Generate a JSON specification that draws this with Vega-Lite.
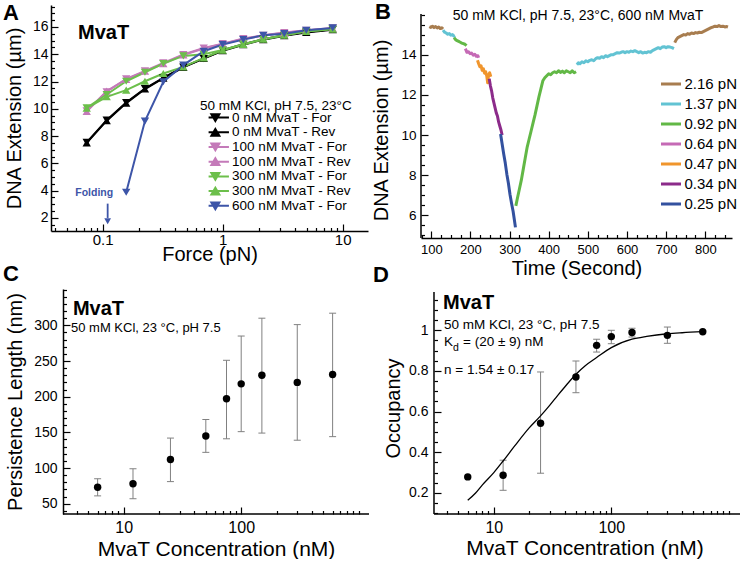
{
"$schema": "https://vega.github.io/schema/vega-lite/v6.json",
"background": "white",
"padding": {"left": 2, "top": 0, "right": 0, "bottom": 0},
"config": {
 "view": {"stroke": null},
 "font": "Liberation Sans",
 "axis": {"domainColor": "#000", "domainWidth": 1.5, "tickColor": "#000", "tickWidth": 1.2, "labelColor": "#000", "titleColor": "#000", "labelFont": "Liberation Sans", "titleFont": "Liberation Sans", "titleFontWeight": "normal", "grid": false, "labelFlush": false, "labelOverlap": false},
 "legend": {"labelFont": "Liberation Sans", "titleFont": "Liberation Sans", "labelColor": "#000", "titleColor": "#000", "padding": 0},
 "title": {"font": "Liberation Sans", "color": "#000"}
},
"datasets": {
 "a": [
  {"f":0.0736,"e":7.54,"s":"0 nM MvaT - For"},{"f":0.108,"e":9.17,"s":"0 nM MvaT - For"},{"f":0.157,"e":10.46,"s":"0 nM MvaT - For"},{"f":0.225,"e":11.49,"s":"0 nM MvaT - For"},{"f":0.32,"e":12.27,"s":"0 nM MvaT - For"},{"f":0.47,"e":13.07,"s":"0 nM MvaT - For"},{"f":0.695,"e":13.68,"s":"0 nM MvaT - For"},{"f":1.0,"e":14.29,"s":"0 nM MvaT - For"},{"f":1.485,"e":14.73,"s":"0 nM MvaT - For"},{"f":2.18,"e":15.1,"s":"0 nM MvaT - For"},{"f":3.26,"e":15.39,"s":"0 nM MvaT - For"},{"f":4.97,"e":15.63,"s":"0 nM MvaT - For"},{"f":8.26,"e":15.83,"s":"0 nM MvaT - For"},
  {"f":0.0736,"e":7.5,"s":"0 nM MvaT - Rev"},{"f":0.108,"e":9.13,"s":"0 nM MvaT - Rev"},{"f":0.157,"e":10.42,"s":"0 nM MvaT - Rev"},{"f":0.225,"e":11.45,"s":"0 nM MvaT - Rev"},{"f":0.32,"e":12.24,"s":"0 nM MvaT - Rev"},{"f":0.47,"e":13.04,"s":"0 nM MvaT - Rev"},{"f":0.695,"e":13.7,"s":"0 nM MvaT - Rev"},{"f":1.0,"e":14.26,"s":"0 nM MvaT - Rev"},{"f":1.485,"e":14.7,"s":"0 nM MvaT - Rev"},{"f":2.18,"e":15.07,"s":"0 nM MvaT - Rev"},{"f":3.26,"e":15.36,"s":"0 nM MvaT - Rev"},{"f":4.97,"e":15.6,"s":"0 nM MvaT - Rev"},{"f":8.26,"e":15.8,"s":"0 nM MvaT - Rev"},
  {"f":0.0736,"e":9.85,"s":"100 nM MvaT - For"},{"f":0.108,"e":11.25,"s":"100 nM MvaT - For"},{"f":0.157,"e":12.2,"s":"100 nM MvaT - For"},{"f":0.225,"e":12.78,"s":"100 nM MvaT - For"},{"f":0.32,"e":13.37,"s":"100 nM MvaT - For"},{"f":0.47,"e":13.98,"s":"100 nM MvaT - For"},{"f":0.695,"e":14.46,"s":"100 nM MvaT - For"},{"f":1.0,"e":14.78,"s":"100 nM MvaT - For"},{"f":1.485,"e":15.15,"s":"100 nM MvaT - For"},{"f":2.18,"e":15.39,"s":"100 nM MvaT - For"},{"f":3.26,"e":15.59,"s":"100 nM MvaT - For"},{"f":4.97,"e":15.76,"s":"100 nM MvaT - For"},{"f":8.26,"e":15.93,"s":"100 nM MvaT - For"},
  {"f":0.0736,"e":9.8,"s":"100 nM MvaT - Rev"},{"f":0.108,"e":11.3,"s":"100 nM MvaT - Rev"},{"f":0.157,"e":12.15,"s":"100 nM MvaT - Rev"},{"f":0.225,"e":12.75,"s":"100 nM MvaT - Rev"},{"f":0.32,"e":13.3,"s":"100 nM MvaT - Rev"},{"f":0.47,"e":13.95,"s":"100 nM MvaT - Rev"},{"f":0.695,"e":14.42,"s":"100 nM MvaT - Rev"},{"f":1.0,"e":14.75,"s":"100 nM MvaT - Rev"},{"f":1.485,"e":15.12,"s":"100 nM MvaT - Rev"},{"f":2.18,"e":15.37,"s":"100 nM MvaT - Rev"},{"f":3.26,"e":15.57,"s":"100 nM MvaT - Rev"},{"f":4.97,"e":15.74,"s":"100 nM MvaT - Rev"},{"f":8.26,"e":15.9,"s":"100 nM MvaT - Rev"},
  {"f":0.0736,"e":10.07,"s":"300 nM MvaT - For"},{"f":0.108,"e":11.05,"s":"300 nM MvaT - For"},{"f":0.157,"e":12.02,"s":"300 nM MvaT - For"},{"f":0.225,"e":12.68,"s":"300 nM MvaT - For"},{"f":0.32,"e":13.32,"s":"300 nM MvaT - For"},{"f":0.47,"e":13.88,"s":"300 nM MvaT - For"},{"f":0.695,"e":14.0,"s":"300 nM MvaT - For"},{"f":1.0,"e":14.32,"s":"300 nM MvaT - For"},{"f":1.485,"e":14.74,"s":"300 nM MvaT - For"},{"f":2.18,"e":15.1,"s":"300 nM MvaT - For"},{"f":3.26,"e":15.39,"s":"300 nM MvaT - For"},{"f":4.97,"e":15.66,"s":"300 nM MvaT - For"},{"f":8.26,"e":15.85,"s":"300 nM MvaT - For"},
  {"f":0.0736,"e":10.05,"s":"300 nM MvaT - Rev"},{"f":0.108,"e":10.88,"s":"300 nM MvaT - Rev"},{"f":0.157,"e":11.37,"s":"300 nM MvaT - Rev"},{"f":0.225,"e":12.02,"s":"300 nM MvaT - Rev"},{"f":0.32,"e":12.59,"s":"300 nM MvaT - Rev"},{"f":0.47,"e":13.07,"s":"300 nM MvaT - Rev"},{"f":0.695,"e":13.73,"s":"300 nM MvaT - Rev"},{"f":1.0,"e":14.29,"s":"300 nM MvaT - Rev"},{"f":1.485,"e":14.71,"s":"300 nM MvaT - Rev"},{"f":2.18,"e":15.1,"s":"300 nM MvaT - Rev"},{"f":3.26,"e":15.39,"s":"300 nM MvaT - Rev"},{"f":4.97,"e":15.68,"s":"300 nM MvaT - Rev"},{"f":8.26,"e":15.83,"s":"300 nM MvaT - Rev"},
  {"f":0.157,"e":3.88,"s":"600 nM MvaT - For"},{"f":0.225,"e":9.1,"s":"600 nM MvaT - For"},{"f":0.32,"e":11.98,"s":"600 nM MvaT - For"},{"f":0.47,"e":13.2,"s":"600 nM MvaT - For"},{"f":0.695,"e":14.22,"s":"600 nM MvaT - For"},{"f":1.0,"e":14.71,"s":"600 nM MvaT - For"},{"f":1.485,"e":15.07,"s":"600 nM MvaT - For"},{"f":2.18,"e":15.39,"s":"600 nM MvaT - For"},{"f":3.26,"e":15.51,"s":"600 nM MvaT - For"},{"f":4.97,"e":15.76,"s":"600 nM MvaT - For"},{"f":8.26,"e":15.93,"s":"600 nM MvaT - For"}
 ],
 "b": [
  {"t":95,"v":15.4,"f":"2.16 pN","g":1},{"t":99,"v":15.36,"f":"2.16 pN","g":1},{"t":103,"v":15.42,"f":"2.16 pN","g":1},{"t":107,"v":15.35,"f":"2.16 pN","g":1},{"t":111,"v":15.4,"f":"2.16 pN","g":1},{"t":115,"v":15.33,"f":"2.16 pN","g":1},{"t":119,"v":15.38,"f":"2.16 pN","g":1},{"t":123,"v":15.3,"f":"2.16 pN","g":1},{"t":127,"v":15.34,"f":"2.16 pN","g":1},{"t":130,"v":15.28,"f":"2.16 pN","g":1},
  {"t":130,"v":15.22,"f":"1.37 pN","g":2},{"t":134,"v":15.12,"f":"1.37 pN","g":2},{"t":138,"v":15.08,"f":"1.37 pN","g":2},{"t":142,"v":15.02,"f":"1.37 pN","g":2},{"t":146,"v":15.05,"f":"1.37 pN","g":2},{"t":150,"v":14.97,"f":"1.37 pN","g":2},{"t":154,"v":15.0,"f":"1.37 pN","g":2},{"t":158,"v":14.92,"f":"1.37 pN","g":2},{"t":161,"v":14.95,"f":"1.37 pN","g":2},
  {"t":158,"v":14.85,"f":"0.92 pN","g":3},{"t":162,"v":14.75,"f":"0.92 pN","g":3},{"t":166,"v":14.7,"f":"0.92 pN","g":3},{"t":170,"v":14.66,"f":"0.92 pN","g":3},{"t":174,"v":14.62,"f":"0.92 pN","g":3},{"t":178,"v":14.58,"f":"0.92 pN","g":3},{"t":182,"v":14.55,"f":"0.92 pN","g":3},{"t":186,"v":14.52,"f":"0.92 pN","g":3},{"t":190,"v":14.45,"f":"0.92 pN","g":3},
  {"t":187,"v":14.3,"f":"0.64 pN","g":4},{"t":191,"v":14.12,"f":"0.64 pN","g":4},{"t":195,"v":14.15,"f":"0.64 pN","g":4},{"t":199,"v":14.05,"f":"0.64 pN","g":4},{"t":203,"v":14.08,"f":"0.64 pN","g":4},{"t":207,"v":13.98,"f":"0.64 pN","g":4},{"t":211,"v":14.02,"f":"0.64 pN","g":4},{"t":215,"v":13.92,"f":"0.64 pN","g":4},{"t":219,"v":13.95,"f":"0.64 pN","g":4},{"t":221,"v":13.85,"f":"0.64 pN","g":4},
  {"t":218,"v":13.72,"f":"0.47 pN","g":5},{"t":221,"v":13.55,"f":"0.47 pN","g":5},{"t":224,"v":13.4,"f":"0.47 pN","g":5},{"t":227,"v":13.45,"f":"0.47 pN","g":5},{"t":230,"v":13.22,"f":"0.47 pN","g":5},{"t":233,"v":13.3,"f":"0.47 pN","g":5},{"t":236,"v":13.08,"f":"0.47 pN","g":5},{"t":239,"v":13.15,"f":"0.47 pN","g":5},{"t":242,"v":12.9,"f":"0.47 pN","g":5},{"t":244,"v":12.6,"f":"0.47 pN","g":5},{"t":246,"v":12.95,"f":"0.47 pN","g":5},{"t":249,"v":13.1,"f":"0.47 pN","g":5},{"t":252,"v":12.9,"f":"0.47 pN","g":5},
  {"t":248,"v":12.8,"f":"0.34 pN","g":6},{"t":251,"v":12.45,"f":"0.34 pN","g":6},{"t":254,"v":12.2,"f":"0.34 pN","g":6},{"t":257,"v":11.85,"f":"0.34 pN","g":6},{"t":260,"v":11.6,"f":"0.34 pN","g":6},{"t":263,"v":11.35,"f":"0.34 pN","g":6},{"t":266,"v":11.1,"f":"0.34 pN","g":6},{"t":269,"v":10.95,"f":"0.34 pN","g":6},{"t":272,"v":10.65,"f":"0.34 pN","g":6},{"t":275,"v":10.45,"f":"0.34 pN","g":6},{"t":278,"v":10.25,"f":"0.34 pN","g":6},{"t":281,"v":10.0,"f":"0.34 pN","g":6},
  {"t":277,"v":10.05,"f":"0.25 pN","g":7},{"t":281,"v":9.55,"f":"0.25 pN","g":7},{"t":285,"v":9.05,"f":"0.25 pN","g":7},{"t":289,"v":8.6,"f":"0.25 pN","g":7},{"t":293,"v":8.05,"f":"0.25 pN","g":7},{"t":297,"v":7.6,"f":"0.25 pN","g":7},{"t":301,"v":7.05,"f":"0.25 pN","g":7},{"t":305,"v":6.6,"f":"0.25 pN","g":7},{"t":309,"v":6.2,"f":"0.25 pN","g":7},{"t":312,"v":5.8,"f":"0.25 pN","g":7},{"t":315,"v":5.4,"f":"0.25 pN","g":7},
  {"t":316,"v":6.47,"f":"0.92 pN","g":8},{"t":320,"v":6.85,"f":"0.92 pN","g":8},{"t":325,"v":7.3,"f":"0.92 pN","g":8},{"t":330,"v":7.75,"f":"0.92 pN","g":8},{"t":335,"v":8.3,"f":"0.92 pN","g":8},{"t":340,"v":8.85,"f":"0.92 pN","g":8},{"t":345,"v":9.4,"f":"0.92 pN","g":8},{"t":350,"v":9.8,"f":"0.92 pN","g":8},{"t":355,"v":10.2,"f":"0.92 pN","g":8},{"t":360,"v":10.6,"f":"0.92 pN","g":8},{"t":365,"v":11.0,"f":"0.92 pN","g":8},{"t":370,"v":11.45,"f":"0.92 pN","g":8},{"t":375,"v":11.9,"f":"0.92 pN","g":8},{"t":380,"v":12.3,"f":"0.92 pN","g":8},{"t":385,"v":12.7,"f":"0.92 pN","g":8},{"t":390,"v":12.85,"f":"0.92 pN","g":8},{"t":395,"v":12.95,"f":"0.92 pN","g":8},{"t":400,"v":13.05,"f":"0.92 pN","g":8},{"t":405,"v":13.0,"f":"0.92 pN","g":8},{"t":410,"v":13.1,"f":"0.92 pN","g":8},{"t":415,"v":13.15,"f":"0.92 pN","g":8},{"t":420,"v":13.1,"f":"0.92 pN","g":8},{"t":425,"v":13.2,"f":"0.92 pN","g":8},{"t":430,"v":13.12,"f":"0.92 pN","g":8},{"t":435,"v":13.18,"f":"0.92 pN","g":8},{"t":440,"v":13.1,"f":"0.92 pN","g":8},{"t":445,"v":13.2,"f":"0.92 pN","g":8},{"t":450,"v":13.15,"f":"0.92 pN","g":8},{"t":455,"v":13.1,"f":"0.92 pN","g":8},{"t":460,"v":13.2,"f":"0.92 pN","g":8},{"t":465,"v":13.1,"f":"0.92 pN","g":8},{"t":470,"v":13.15,"f":"0.92 pN","g":8},
  {"t":472,"v":13.5,"f":"1.37 pN","g":9},{"t":476,"v":13.6,"f":"1.37 pN","g":9},{"t":480,"v":13.55,"f":"1.37 pN","g":9},{"t":485,"v":13.65,"f":"1.37 pN","g":9},{"t":490,"v":13.6,"f":"1.37 pN","g":9},{"t":495,"v":13.7,"f":"1.37 pN","g":9},{"t":500,"v":13.65,"f":"1.37 pN","g":9},{"t":505,"v":13.72,"f":"1.37 pN","g":9},{"t":510,"v":13.75,"f":"1.37 pN","g":9},{"t":515,"v":13.7,"f":"1.37 pN","g":9},{"t":520,"v":13.8,"f":"1.37 pN","g":9},{"t":525,"v":13.85,"f":"1.37 pN","g":9},{"t":530,"v":13.82,"f":"1.37 pN","g":9},{"t":535,"v":13.9,"f":"1.37 pN","g":9},{"t":540,"v":13.85,"f":"1.37 pN","g":9},{"t":545,"v":13.95,"f":"1.37 pN","g":9},{"t":550,"v":13.9,"f":"1.37 pN","g":9},{"t":555,"v":13.95,"f":"1.37 pN","g":9},{"t":560,"v":14.0,"f":"1.37 pN","g":9},{"t":565,"v":14.0,"f":"1.37 pN","g":9},{"t":570,"v":14.05,"f":"1.37 pN","g":9},{"t":575,"v":14.1,"f":"1.37 pN","g":9},{"t":580,"v":14.08,"f":"1.37 pN","g":9},{"t":585,"v":14.12,"f":"1.37 pN","g":9},{"t":590,"v":14.15,"f":"1.37 pN","g":9},{"t":595,"v":14.1,"f":"1.37 pN","g":9},{"t":600,"v":14.15,"f":"1.37 pN","g":9},{"t":605,"v":14.12,"f":"1.37 pN","g":9},{"t":610,"v":14.18,"f":"1.37 pN","g":9},{"t":615,"v":14.15,"f":"1.37 pN","g":9},{"t":620,"v":14.2,"f":"1.37 pN","g":9},{"t":625,"v":14.15,"f":"1.37 pN","g":9},{"t":630,"v":14.1,"f":"1.37 pN","g":9},{"t":635,"v":14.15,"f":"1.37 pN","g":9},{"t":640,"v":14.08,"f":"1.37 pN","g":9},{"t":645,"v":14.12,"f":"1.37 pN","g":9},{"t":650,"v":14.1,"f":"1.37 pN","g":9},{"t":655,"v":14.15,"f":"1.37 pN","g":9},{"t":660,"v":14.12,"f":"1.37 pN","g":9},{"t":665,"v":14.2,"f":"1.37 pN","g":9},{"t":670,"v":14.25,"f":"1.37 pN","g":9},{"t":675,"v":14.3,"f":"1.37 pN","g":9},{"t":680,"v":14.35,"f":"1.37 pN","g":9},{"t":685,"v":14.3,"f":"1.37 pN","g":9},{"t":690,"v":14.38,"f":"1.37 pN","g":9},{"t":695,"v":14.4,"f":"1.37 pN","g":9},{"t":700,"v":14.35,"f":"1.37 pN","g":9},{"t":705,"v":14.4,"f":"1.37 pN","g":9},{"t":710,"v":14.38,"f":"1.37 pN","g":9},{"t":715,"v":14.35,"f":"1.37 pN","g":9},{"t":720,"v":14.3,"f":"1.37 pN","g":9},
  {"t":722,"v":14.6,"f":"2.16 pN","g":10},{"t":726,"v":14.75,"f":"2.16 pN","g":10},{"t":730,"v":14.85,"f":"2.16 pN","g":10},{"t":735,"v":14.9,"f":"2.16 pN","g":10},{"t":740,"v":14.95,"f":"2.16 pN","g":10},{"t":745,"v":15.0,"f":"2.16 pN","g":10},{"t":750,"v":14.98,"f":"2.16 pN","g":10},{"t":755,"v":15.05,"f":"2.16 pN","g":10},{"t":760,"v":15.02,"f":"2.16 pN","g":10},{"t":765,"v":15.08,"f":"2.16 pN","g":10},{"t":770,"v":15.05,"f":"2.16 pN","g":10},{"t":775,"v":15.1,"f":"2.16 pN","g":10},{"t":780,"v":15.08,"f":"2.16 pN","g":10},{"t":785,"v":15.12,"f":"2.16 pN","g":10},{"t":790,"v":15.1,"f":"2.16 pN","g":10},{"t":795,"v":15.15,"f":"2.16 pN","g":10},{"t":800,"v":15.2,"f":"2.16 pN","g":10},{"t":805,"v":15.25,"f":"2.16 pN","g":10},{"t":810,"v":15.3,"f":"2.16 pN","g":10},{"t":815,"v":15.35,"f":"2.16 pN","g":10},{"t":820,"v":15.38,"f":"2.16 pN","g":10},{"t":825,"v":15.42,"f":"2.16 pN","g":10},{"t":830,"v":15.4,"f":"2.16 pN","g":10},{"t":835,"v":15.45,"f":"2.16 pN","g":10},{"t":840,"v":15.4,"f":"2.16 pN","g":10},{"t":845,"v":15.42,"f":"2.16 pN","g":10},{"t":850,"v":15.38,"f":"2.16 pN","g":10},{"t":855,"v":15.4,"f":"2.16 pN","g":10},{"t":858,"v":15.38,"f":"2.16 pN","g":10}
 ],
 "c": [
  {"c":6,"p":73,"lo":61,"hi":85},{"c":12,"p":78,"lo":57,"hi":99},{"c":25,"p":112,"lo":81,"hi":142},{"c":50,"p":145,"lo":122,"hi":168},{"c":75,"p":197,"lo":141,"hi":251},{"c":100,"p":218,"lo":151,"hi":285},{"c":150,"p":230,"lo":149,"hi":310},{"c":300,"p":220,"lo":139,"hi":301},{"c":600,"p":231,"lo":144,"hi":317}
 ],
 "d": [
  {"c":6,"o":0.279,"lo":null,"hi":null},{"c":12,"o":0.287,"lo":0.213,"hi":0.361},{"c":25,"o":0.543,"lo":0.297,"hi":0.795},{"c":50,"o":0.77,"lo":0.693,"hi":0.849},{"c":75,"o":0.926,"lo":0.893,"hi":0.956},{"c":100,"o":0.969,"lo":0.934,"hi":1.0},{"c":150,"o":0.989,"lo":0.967,"hi":1.01},{"c":300,"o":0.975,"lo":0.936,"hi":1.016},{"c":600,"o":0.993,"lo":null,"hi":null}
 ],
 "dfit": [
  {"c":6,"o":0.164},{"c":7,"o":0.2},{"c":8,"o":0.24},{"c":10,"o":0.3},{"c":12,"o":0.357},{"c":15,"o":0.43},{"c":20,"o":0.52},{"c":25,"o":0.579},{"c":30,"o":0.632},{"c":35,"o":0.68},{"c":40,"o":0.72},{"c":50,"o":0.784},{"c":60,"o":0.826},{"c":75,"o":0.866},{"c":100,"o":0.915},{"c":150,"o":0.956},{"c":200,"o":0.97},{"c":300,"o":0.983},{"c":400,"o":0.988},{"c":600,"o":0.993}
 ]
},
"columns": 2,
"spacing": {"row": 51, "column": 51},
"bounds": "flush",
"align": "all",
"resolve": {"scale": {"x": "independent", "y": "independent", "color": "independent", "shape": "independent", "fill": "independent", "stroke": "independent"}},
"concat": [
 {
  "width": 317, "height": 226,
  "resolve": {"axis": {"x": "independent", "y": "independent"}},
  "layer": [
   {
    "data": {"name": "a"},
    "mark": {"type": "line", "strokeWidth": 2},
    "encoding": {
     "x": {"field": "f", "type": "quantitative", "scale": {"type": "log", "domain": [0.03709, 16.25], "nice": false},
           "axis": {"orient": "bottom", "values": [0.1, 1, 10], "format": "~g", "tickSize": -7, "labelPadding": 8, "labelFontSize": 15, "title": "Force (pN)", "titleFontSize": 20, "titleY": 29, "titleBaseline": "alphabetic"}},
     "y": {"field": "e", "type": "quantitative", "scale": {"domain": [1.044, 17.61], "nice": false, "zero": false},
           "axis": {"orient": "left", "values": [2, 4, 6, 8, 10, 12, 14, 16], "tickSize": -7, "labelPadding": 10, "labelFontSize": 14, "title": "DNA Extension (µm)", "titleFontSize": 20, "titleX": -30.5, "titleBaseline": "alphabetic"}},
     "stroke": {"field": "s", "type": "nominal",
               "scale": {"domain": ["0 nM MvaT - For", "0 nM MvaT - Rev", "100 nM MvaT - For", "100 nM MvaT - Rev", "300 nM MvaT - For", "300 nM MvaT - Rev", "600 nM MvaT - For"], "range": ["#000000", "#000000", "#c47ab9", "#c47ab9", "#6cbf4b", "#6cbf4b", "#3d55a8"]},
               "legend": {"orient": "none", "legendX": 157.6, "legendY": 105.6, "title": null, "labelFontSize": 13.5, "symbolSize": 64, "symbolStrokeWidth": 2, "labelOffset": 10, "rowPadding": 0.7, "clipHeight": 14}}
    }
   },
   {
    "data": {"name": "a"},
    "mark": {"type": "point", "filled": true, "size": 70, "opacity": 1, "strokeWidth": 0},
    "encoding": {
     "x": {"field": "f", "type": "quantitative", "scale": {"type": "log", "domain": [0.03709, 16.25], "nice": false}, "axis": null},
     "y": {"field": "e", "type": "quantitative", "scale": {"domain": [1.044, 17.61], "nice": false, "zero": false}, "axis": null},
     "fill": {"field": "s", "type": "nominal",
               "scale": {"domain": ["0 nM MvaT - For", "0 nM MvaT - Rev", "100 nM MvaT - For", "100 nM MvaT - Rev", "300 nM MvaT - For", "300 nM MvaT - Rev", "600 nM MvaT - For"], "range": ["#000000", "#000000", "#c47ab9", "#c47ab9", "#6cbf4b", "#6cbf4b", "#3d55a8"]},
               "legend": {"orient": "none", "legendX": 157.6, "legendY": 105.6, "title": null, "labelFontSize": 13.5, "symbolSize": 64, "symbolStrokeWidth": 2, "labelOffset": 10, "rowPadding": 0.7, "clipHeight": 14}},
     "stroke": {"field": "s", "type": "nominal",
               "scale": {"domain": ["0 nM MvaT - For", "0 nM MvaT - Rev", "100 nM MvaT - For", "100 nM MvaT - Rev", "300 nM MvaT - For", "300 nM MvaT - Rev", "600 nM MvaT - For"], "range": ["#000000", "#000000", "#c47ab9", "#c47ab9", "#6cbf4b", "#6cbf4b", "#3d55a8"]},
               "legend": {"orient": "none", "legendX": 157.6, "legendY": 105.6, "title": null, "labelFontSize": 13.5, "symbolSize": 64, "symbolStrokeWidth": 2, "labelOffset": 10, "rowPadding": 0.7, "clipHeight": 14}},
     "shape": {"field": "s", "type": "nominal",
               "scale": {"domain": ["0 nM MvaT - For", "0 nM MvaT - Rev", "100 nM MvaT - For", "100 nM MvaT - Rev", "300 nM MvaT - For", "300 nM MvaT - Rev", "600 nM MvaT - For"],
                         "range": ["M-3.4,0H3.4M-1,-0.85H1L0,0.85Z", "M-3.4,0H3.4M-1,0.85H1L0,-0.85Z", "M-3.4,0H3.4M-1,-0.85H1L0,0.85Z", "M-3.4,0H3.4M-1,0.85H1L0,-0.85Z", "M-3.4,0H3.4M-1,-0.85H1L0,0.85Z", "M-3.4,0H3.4M-1,0.85H1L0,-0.85Z", "M-3.4,0H3.4M-1,-0.85H1L0,0.85Z"]},
               "legend": {"orient": "none", "legendX": 157.6, "legendY": 105.6, "title": null, "labelFontSize": 13.5, "symbolSize": 64, "symbolStrokeWidth": 2, "labelOffset": 10, "rowPadding": 0.7, "clipHeight": 14}}
    }
   },
   {
    "data": {"values": [{"x": 0.0623, "y": 15.12, "t": "MvaT", "z": 20}, {"x": 0.01476, "y": 16.51, "t": "A", "z": 22}]},
    "mark": {"type": "text", "align": "left", "baseline": "alphabetic", "fontWeight": "bold", "color": "#000"},
    "encoding": {
     "x": {"field": "x", "type": "quantitative", "scale": {"type": "log", "domain": [0.03709, 16.25], "nice": false}, "axis": null},
     "y": {"field": "y", "type": "quantitative", "scale": {"domain": [1.044, 17.61], "nice": false, "zero": false}, "axis": null},
     "text": {"field": "t"},
     "size": {"field": "z", "type": "quantitative", "scale": null}
    }
   },
   {
    "data": {"values": [{"x": 0.647, "y": 9.915, "t": "50 mM KCl, pH 7.5, 23°C"}]},
    "mark": {"type": "text", "align": "left", "baseline": "alphabetic", "fontSize": 13.5, "color": "#000"},
    "encoding": {
     "x": {"field": "x", "type": "quantitative", "scale": {"type": "log", "domain": [0.03709, 16.25], "nice": false}, "axis": null},
     "y": {"field": "y", "type": "quantitative", "scale": {"domain": [1.044, 17.61], "nice": false, "zero": false}, "axis": null},
     "text": {"field": "t"}
    }
   },
   {
    "data": {"values": [{"x": 0.085, "y": 3.61, "t": "Folding"}]},
    "mark": {"type": "text", "align": "center", "baseline": "alphabetic", "fontSize": 10.5, "fontWeight": "bold", "color": "#3d55a8"},
    "encoding": {
     "x": {"field": "x", "type": "quantitative", "scale": {"type": "log", "domain": [0.03709, 16.25], "nice": false}, "axis": null},
     "y": {"field": "y", "type": "quantitative", "scale": {"domain": [1.044, 17.61], "nice": false, "zero": false}, "axis": null},
     "text": {"field": "t"}
    }
   },
   {
    "data": {"values": [{"x": 0.11, "y": 3.05, "y2": 2.0}]},
    "mark": {"type": "rule", "strokeWidth": 1.8, "color": "#3d55a8"},
    "encoding": {
     "x": {"field": "x", "type": "quantitative", "scale": {"type": "log", "domain": [0.03709, 16.25], "nice": false}, "axis": null},
     "y": {"field": "y", "type": "quantitative", "scale": {"domain": [1.044, 17.61], "nice": false, "zero": false}, "axis": null},
     "y2": {"field": "y2"}
    }
   },
   {
    "data": {"values": [{"x": 0.11, "y": 1.76}]},
    "mark": {"type": "point", "shape": "triangle-down", "filled": true, "size": 45, "color": "#3d55a8", "opacity": 1},
    "encoding": {
     "x": {"field": "x", "type": "quantitative", "scale": {"type": "log", "domain": [0.03709, 16.25], "nice": false}, "axis": null},
     "y": {"field": "y", "type": "quantitative", "scale": {"domain": [1.044, 17.61], "nice": false, "zero": false}, "axis": null}
    }
   },
   {
    "data": {"name": "a"},
    "mark": {"type": "point", "opacity": 0},
    "encoding": {
     "x": {"field": "f", "type": "quantitative", "scale": {"type": "log", "domain": [0.03709, 16.25], "nice": false},
           "axis": {"orient": "bottom", "values": [0.04, 0.05, 0.06, 0.07, 0.08, 0.09, 0.2, 0.3, 0.4, 0.5, 0.6, 0.7, 0.8, 0.9, 2, 3, 4, 5, 6, 7, 8, 9], "tickSize": -3.5, "labels": false, "domain": false, "title": null}},
     "y": {"field": "e", "type": "quantitative", "scale": {"domain": [1.044, 17.61], "nice": false, "zero": false},
           "axis": {"orient": "left", "values": [1.5, 2.5, 3, 3.5, 4.5, 5, 5.5, 6.5, 7, 7.5, 8.5, 9, 9.5, 10.5, 11, 11.5, 12.5, 13, 13.5, 14.5, 15, 15.5, 16.5, 17, 17.5], "tickSize": -3.5, "labels": false, "domain": false, "title": null}}
    }
   }
  ]
 },
 {
  "width": 311, "height": 233,
  "resolve": {"axis": {"x": "independent", "y": "independent"}},
  "layer": [
   {
    "data": {"name": "b"},
    "mark": {"type": "line", "strokeWidth": 3, "strokeJoin": "round"},
    "encoding": {
     "x": {"field": "t", "type": "quantitative", "scale": {"domain": [73.68, 868.3], "nice": false, "zero": false},
           "axis": {"orient": "bottom", "values": [100, 200, 300, 400, 500, 600, 700, 800], "tickSize": -7, "labelPadding": 12, "labelFontSize": 13, "title": "Time (Second)", "titleFontSize": 20, "titleY": 36.7, "titleBaseline": "alphabetic"}},
     "y": {"field": "v", "type": "quantitative", "scale": {"domain": [4.87, 16.475], "nice": false, "zero": false},
           "axis": {"orient": "left", "values": [6, 8, 10, 12, 14], "domain": false, "tickSize": -7, "labelPadding": 12, "labelFontSize": 13.5, "title": "DNA Extension (µm)", "titleFontSize": 20, "titleX": -34, "titleY": 125, "titleBaseline": "alphabetic"}},
     "color": {"field": "f", "type": "nominal",
               "scale": {"domain": ["2.16 pN", "1.37 pN", "0.92 pN", "0.64 pN", "0.47 pN", "0.34 pN", "0.25 pN"], "range": ["#a87d4f", "#62c3d3", "#62b846", "#c56ab5", "#f0952c", "#8c2b8a", "#33519f"]},
               "legend": {"orient": "none", "legendX": 238.5, "legendY": 69, "title": null, "symbolType": "stroke", "symbolSize": 400, "symbolStrokeWidth": 3, "labelFontSize": 15, "labelOffset": 2, "rowPadding": 0, "clipHeight": 20}},
     "detail": {"field": "g", "type": "nominal"}
    }
   },
   {
    "data": {"values": [{"x": 73.68, "y": 4.87, "y2": 16.03}]},
    "mark": {"type": "rule", "strokeWidth": 1.5, "color": "#000"},
    "encoding": {
     "x": {"field": "x", "type": "quantitative", "scale": {"domain": [73.68, 868.3], "nice": false, "zero": false}, "axis": null},
     "y": {"field": "y", "type": "quantitative", "scale": {"domain": [4.87, 16.475], "nice": false, "zero": false}, "axis": null},
     "y2": {"field": "y2"}
    }
   },
   {
    "data": {"values": [{"x": 475, "y": 15.73, "t": "50 mM KCl, pH 7.5, 23°C, 600 nM MvaT"}]},
    "mark": {"type": "text", "align": "center", "baseline": "alphabetic", "fontSize": 14, "color": "#000"},
    "encoding": {
     "x": {"field": "x", "type": "quantitative", "scale": {"domain": [73.68, 868.3], "nice": false, "zero": false}, "axis": null},
     "y": {"field": "y", "type": "quantitative", "scale": {"domain": [4.87, 16.475], "nice": false, "zero": false}, "axis": null},
     "text": {"field": "t"}
    }
   },
   {
    "data": {"values": [{"x": -43.8, "y": 15.78, "t": "B"}]},
    "mark": {"type": "text", "align": "left", "baseline": "alphabetic", "fontSize": 22, "fontWeight": "bold", "color": "#000"},
    "encoding": {
     "x": {"field": "x", "type": "quantitative", "scale": {"domain": [73.68, 868.3], "nice": false, "zero": false}, "axis": null},
     "y": {"field": "y", "type": "quantitative", "scale": {"domain": [4.87, 16.475], "nice": false, "zero": false}, "axis": null},
     "text": {"field": "t"}
    }
   },
   {
    "data": {"name": "b"},
    "mark": {"type": "point", "opacity": 0},
    "encoding": {
     "x": {"field": "t", "type": "quantitative", "scale": {"domain": [73.68, 868.3], "nice": false, "zero": false},
           "axis": {"orient": "bottom", "values": [75, 125, 150, 175, 225, 250, 275, 325, 350, 375, 425, 450, 475, 525, 550, 575, 625, 650, 675, 725, 750, 775, 825, 850], "tickSize": -3.5, "labels": false, "domain": false, "title": null}},
     "y": {"field": "v", "type": "quantitative", "scale": {"domain": [4.87, 16.475], "nice": false, "zero": false},
           "axis": {"orient": "left", "values": [5, 5.5, 6.5, 7, 7.5, 8.5, 9, 9.5, 10.5, 11, 11.5, 12.5, 13, 13.5, 14.5, 15, 15.5, 16], "tickSize": -3.5, "labels": false, "domain": false, "title": null}}
    }
   }
  ]
 },
 {
  "width": 318, "height": 225,
  "resolve": {"axis": {"x": "independent", "y": "independent"}},
  "layer": [
   {
    "data": {"name": "c"},
    "mark": {"type": "rule", "color": "#808080", "strokeWidth": 1},
    "encoding": {
     "x": {"field": "c", "type": "quantitative", "scale": {"type": "log", "domain": [2.406, 1224], "nice": false}, "axis": null},
     "y": {"field": "lo", "type": "quantitative", "scale": {"domain": [35.6, 350.9], "nice": false, "zero": false}, "axis": null},
     "y2": {"field": "hi"}
    }
   },
   {
    "data": {"name": "c"},
    "mark": {"type": "tick", "orient": "horizontal", "size": 7, "thickness": 1, "color": "#808080", "opacity": 1},
    "encoding": {
     "x": {"field": "c", "type": "quantitative", "scale": {"type": "log", "domain": [2.406, 1224], "nice": false}, "axis": null},
     "y": {"field": "lo", "type": "quantitative", "scale": {"domain": [35.6, 350.9], "nice": false, "zero": false}, "axis": null}
    }
   },
   {
    "data": {"name": "c"},
    "mark": {"type": "tick", "orient": "horizontal", "size": 7, "thickness": 1, "color": "#808080", "opacity": 1},
    "encoding": {
     "x": {"field": "c", "type": "quantitative", "scale": {"type": "log", "domain": [2.406, 1224], "nice": false}, "axis": null},
     "y": {"field": "hi", "type": "quantitative", "scale": {"domain": [35.6, 350.9], "nice": false, "zero": false}, "axis": null}
    }
   },
   {
    "data": {"values": [{"x": 3.043, "x2": 1224, "y": 35.6}]},
    "mark": {"type": "rule", "strokeWidth": 1.5, "color": "#000"},
    "encoding": {
     "x": {"field": "x", "type": "quantitative", "scale": {"type": "log", "domain": [2.406, 1224], "nice": false}, "axis": null},
     "x2": {"field": "x2"},
     "y": {"field": "y", "type": "quantitative", "scale": {"domain": [35.6, 350.9], "nice": false, "zero": false}, "axis": null}
    }
   },
   {
    "data": {"name": "c"},
    "mark": {"type": "circle", "size": 55, "color": "#000", "opacity": 1},
    "encoding": {
     "x": {"field": "c", "type": "quantitative", "scale": {"type": "log", "domain": [2.406, 1224], "nice": false},
           "axis": {"orient": "bottom", "values": [10, 100], "format": "~g", "domain": false, "tickSize": -7, "labelPadding": 12, "labelFontSize": 16, "title": "MvaT Concentration (nM)", "titleFontSize": 21, "titleX": 165, "titleY": 41, "titleBaseline": "alphabetic"}},
     "y": {"field": "p", "type": "quantitative", "scale": {"domain": [35.6, 350.9], "nice": false, "zero": false},
           "axis": {"orient": "left", "offset": -12, "values": [50, 100, 150, 200, 250, 300], "tickSize": -7, "labelPadding": 13, "labelFontSize": 14, "title": "Persistence Length (nm)", "titleFontSize": 20, "titleX": -42, "titleBaseline": "alphabetic"}}
    }
   },
   {
    "data": {"values": [{"x": 3.7, "y": 314.4, "t": "MvaT", "z": 20}, {"x": 0.9393, "y": 362.1, "t": "C", "z": 22}]},
    "mark": {"type": "text", "align": "left", "baseline": "alphabetic", "fontWeight": "bold", "color": "#000"},
    "encoding": {
     "x": {"field": "x", "type": "quantitative", "scale": {"type": "log", "domain": [2.406, 1224], "nice": false}, "axis": null},
     "y": {"field": "y", "type": "quantitative", "scale": {"domain": [35.6, 350.9], "nice": false, "zero": false}, "axis": null},
     "text": {"field": "t"},
     "size": {"field": "z", "type": "quantitative", "scale": null}
    }
   },
   {
    "data": {"values": [{"x": 3.56, "y": 290.6, "t": "50 mM KCl, 23 °C, pH 7.5"}]},
    "mark": {"type": "text", "align": "left", "baseline": "alphabetic", "fontSize": 13, "color": "#000"},
    "encoding": {
     "x": {"field": "x", "type": "quantitative", "scale": {"type": "log", "domain": [2.406, 1224], "nice": false}, "axis": null},
     "y": {"field": "y", "type": "quantitative", "scale": {"domain": [35.6, 350.9], "nice": false, "zero": false}, "axis": null},
     "text": {"field": "t"}
    }
   },
   {
    "data": {"name": "c"},
    "mark": {"type": "point", "opacity": 0},
    "encoding": {
     "x": {"field": "c", "type": "quantitative", "scale": {"type": "log", "domain": [2.406, 1224], "nice": false},
           "axis": {"orient": "bottom", "values": [4, 5, 6, 7, 8, 9, 20, 30, 40, 50, 60, 70, 80, 90, 200, 300, 400, 500, 600, 700, 800, 900, 1000], "tickSize": -3.5, "labels": false, "domain": false, "title": null}},
     "y": {"field": "p", "type": "quantitative", "scale": {"domain": [35.6, 350.9], "nice": false, "zero": false},
           "axis": {"orient": "left", "offset": -12, "values": [40, 60, 70, 80, 90, 110, 120, 130, 140, 160, 170, 180, 190, 210, 220, 230, 240, 260, 270, 280, 290, 310, 320, 330, 340, 350], "tickSize": -3.5, "labels": false, "domain": false, "title": null}}
    }
   }
  ]
 },
 {
  "width": 319, "height": 225,
  "resolve": {"axis": {"x": "independent", "y": "independent"}},
  "layer": [
   {
    "data": {"name": "d"},
    "mark": {"type": "rule", "color": "#808080", "strokeWidth": 1},
    "encoding": {
     "x": {"field": "c", "type": "quantitative", "scale": {"type": "log", "domain": [2.401, 1245], "nice": false}, "axis": null},
     "y": {"field": "lo", "type": "quantitative", "scale": {"domain": [0.0964, 1.2031], "nice": false, "zero": false}, "axis": null},
     "y2": {"field": "hi"}
    }
   },
   {
    "data": {"name": "d"},
    "mark": {"type": "tick", "orient": "horizontal", "size": 7, "thickness": 1, "color": "#808080", "opacity": 1},
    "encoding": {
     "x": {"field": "c", "type": "quantitative", "scale": {"type": "log", "domain": [2.401, 1245], "nice": false}, "axis": null},
     "y": {"field": "lo", "type": "quantitative", "scale": {"domain": [0.0964, 1.2031], "nice": false, "zero": false}, "axis": null}
    }
   },
   {
    "data": {"name": "d"},
    "mark": {"type": "tick", "orient": "horizontal", "size": 7, "thickness": 1, "color": "#808080", "opacity": 1},
    "encoding": {
     "x": {"field": "c", "type": "quantitative", "scale": {"type": "log", "domain": [2.401, 1245], "nice": false}, "axis": null},
     "y": {"field": "hi", "type": "quantitative", "scale": {"domain": [0.0964, 1.2031], "nice": false, "zero": false}, "axis": null}
    }
   },
   {
    "data": {"values": [{"x": 3.097, "x2": 1245, "y": 0.0964}]},
    "mark": {"type": "rule", "strokeWidth": 1.5, "color": "#000"},
    "encoding": {
     "x": {"field": "x", "type": "quantitative", "scale": {"type": "log", "domain": [2.401, 1245], "nice": false}, "axis": null},
     "x2": {"field": "x2"},
     "y": {"field": "y", "type": "quantitative", "scale": {"domain": [0.0964, 1.2031], "nice": false, "zero": false}, "axis": null}
    }
   },
   {
    "data": {"values": [{"x": 3.097, "y": 0.0964, "y2": 1.188}]},
    "mark": {"type": "rule", "strokeWidth": 1.5, "color": "#000"},
    "encoding": {
     "x": {"field": "x", "type": "quantitative", "scale": {"type": "log", "domain": [2.401, 1245], "nice": false}, "axis": null},
     "y": {"field": "y", "type": "quantitative", "scale": {"domain": [0.0964, 1.2031], "nice": false, "zero": false}, "axis": null},
     "y2": {"field": "y2"}
    }
   },
   {
    "data": {"name": "dfit"},
    "mark": {"type": "line", "color": "#000", "strokeWidth": 1.3, "interpolate": "monotone"},
    "encoding": {
     "x": {"field": "c", "type": "quantitative", "scale": {"type": "log", "domain": [2.401, 1245], "nice": false}, "axis": null},
     "y": {"field": "o", "type": "quantitative", "scale": {"domain": [0.0964, 1.2031], "nice": false, "zero": false}, "axis": null}
    }
   },
   {
    "data": {"name": "d"},
    "mark": {"type": "circle", "size": 55, "color": "#000", "opacity": 1},
    "encoding": {
     "x": {"field": "c", "type": "quantitative", "scale": {"type": "log", "domain": [2.401, 1245], "nice": false},
           "axis": {"orient": "bottom", "values": [10, 100], "format": "~g", "domain": false, "tickSize": -7, "labelPadding": 12, "labelFontSize": 16, "title": "MvaT Concentration (nM)", "titleFontSize": 21, "titleX": 163.5, "titleY": 40.5, "titleBaseline": "alphabetic"}},
     "y": {"field": "o", "type": "quantitative", "scale": {"domain": [0.0964, 1.2031], "nice": false, "zero": false},
           "axis": {"orient": "left", "offset": -13, "domain": false, "values": [0.2, 0.4, 0.6, 0.8, 1], "format": "~g", "tickSize": -7, "labelPadding": 13, "labelFontSize": 14, "title": "Occupancy", "titleFontSize": 20, "titleX": -35, "titleY": 119, "titleBaseline": "alphabetic"}}
    }
   },
   {
    "data": {"values": [{"x": 3.7, "y": 1.105, "t": "MvaT", "z": 20}, {"x": 0.9374, "y": 1.2376, "t": "D", "z": 22}]},
    "mark": {"type": "text", "align": "left", "baseline": "alphabetic", "fontWeight": "bold", "color": "#000"},
    "encoding": {
     "x": {"field": "x", "type": "quantitative", "scale": {"type": "log", "domain": [2.401, 1245], "nice": false}, "axis": null},
     "y": {"field": "y", "type": "quantitative", "scale": {"domain": [0.0964, 1.2031], "nice": false, "zero": false}, "axis": null},
     "text": {"field": "t"},
     "size": {"field": "z", "type": "quantitative", "scale": null}
    }
   },
   {
    "data": {"values": [{"x": 3.77, "y": 1.006, "t": "50 mM KCl, 23 °C, pH 7.5"}, {"x": 3.77, "y": 0.783, "t": "n = 1.54 ± 0.17"}, {"x": 3.77, "y": 0.923, "t": "K"}]},
    "mark": {"type": "text", "align": "left", "baseline": "alphabetic", "fontSize": 13.5, "color": "#000"},
    "encoding": {
     "x": {"field": "x", "type": "quantitative", "scale": {"type": "log", "domain": [2.401, 1245], "nice": false}, "axis": null},
     "y": {"field": "y", "type": "quantitative", "scale": {"domain": [0.0964, 1.2031], "nice": false, "zero": false}, "axis": null},
     "text": {"field": "t"}
    }
   },
   {
    "data": {"values": [{"x": 3.77, "y": 0.923, "t": "d"}]},
    "mark": {"type": "text", "align": "left", "baseline": "alphabetic", "fontSize": 10.5, "color": "#000", "dx": 9, "dy": 5},
    "encoding": {
     "x": {"field": "x", "type": "quantitative", "scale": {"type": "log", "domain": [2.401, 1245], "nice": false}, "axis": null},
     "y": {"field": "y", "type": "quantitative", "scale": {"domain": [0.0964, 1.2031], "nice": false, "zero": false}, "axis": null},
     "text": {"field": "t"}
    }
   },
   {
    "data": {"values": [{"x": 3.77, "y": 0.923, "t": "= (20 ± 9) nM"}]},
    "mark": {"type": "text", "align": "left", "baseline": "alphabetic", "fontSize": 13.5, "color": "#000", "dx": 19},
    "encoding": {
     "x": {"field": "x", "type": "quantitative", "scale": {"type": "log", "domain": [2.401, 1245], "nice": false}, "axis": null},
     "y": {"field": "y", "type": "quantitative", "scale": {"domain": [0.0964, 1.2031], "nice": false, "zero": false}, "axis": null},
     "text": {"field": "t"}
    }
   },
   {
    "data": {"name": "d"},
    "mark": {"type": "point", "opacity": 0},
    "encoding": {
     "x": {"field": "c", "type": "quantitative", "scale": {"type": "log", "domain": [2.401, 1245], "nice": false},
           "axis": {"orient": "bottom", "values": [4, 5, 6, 7, 8, 9, 20, 30, 40, 50, 60, 70, 80, 90, 200, 300, 400, 500, 600, 700, 800, 900, 1000], "tickSize": -3.5, "labels": false, "domain": false, "title": null}},
     "y": {"field": "o", "type": "quantitative", "scale": {"domain": [0.0964, 1.2031], "nice": false, "zero": false},
           "axis": {"orient": "left", "offset": -13, "values": [0.1, 0.15, 0.25, 0.3, 0.35, 0.45, 0.5, 0.55, 0.65, 0.7, 0.75, 0.85, 0.9, 0.95, 1.05, 1.1, 1.15], "tickSize": -3.5, "labels": false, "domain": false, "title": null}}
    }
   }
  ]
 }
]
}
